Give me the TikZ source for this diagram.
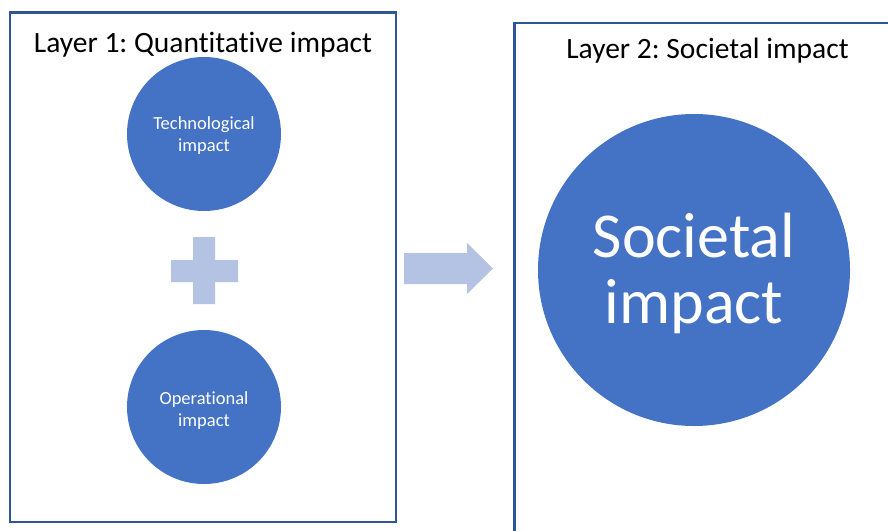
\documentclass[tikz,border=0pt]{standalone}
\usepackage{fontspec}
\setmainfont[Ligatures=NoCommon]{Carlito}
\frenchspacing
\definecolor{boxblue}{HTML}{2F5597}
\definecolor{circblue}{HTML}{4472C4}
\definecolor{lightblue}{HTML}{B4C3E3}
\tikzset{
  layerbox/.style={draw=boxblue, line width=2.2pt},
  bubble/.style={circle, fill=circblue, inner sep=0pt},
  bubbletext/.style={text=white, align=center, inner sep=0pt},
  title/.style={anchor=base, text=black, inner sep=0pt},
  pale/.style={fill=lightblue, draw=none}
}
\begin{document}
\begin{tikzpicture}[x=1pt, y=-1pt]
\useasboundingbox (0,0) rectangle (888,530);
% boxes
\draw[layerbox] (10,12.5) rectangle (396,522);
\draw[layerbox] (890,23) -- (514.5,23) -- (514.5,532);
% titles
\node[title, font=\fontsize{29.5}{34}\selectfont] (t1) at (203,52) {Layer 1: Quantitative impact};
\node[title, font=\fontsize{29.5}{34}\selectfont] (t2) at (707.5,58.5) {Layer 2: Societal impact};
% circles
\node[bubble, minimum size=154pt] (tech) at (204,134) {};
\node[bubble, minimum size=154pt] (oper) at (204,407) {};
\node[bubble, minimum size=312pt] (soc) at (694,270) {};
\node[bubbletext, font=\fontsize{18.5}{22}\selectfont] (techlbl) at ([yshift=-2pt]tech.center) {Technological\\impact};
\node[bubbletext, font=\fontsize{18.5}{22}\selectfont] (operlbl) at ([yshift=-4pt]oper.center) {Operational\\impact};
\node[bubbletext, font=\fontsize{64}{66}\selectfont] (soclbl) at ([yshift=-3pt]soc.center) {Societal\\impact};
% plus
\fill[pale] (193,237) -- (215,237) -- (215,260) -- (238,260) -- (238,282) -- (215,282) -- (215,304) -- (193,304) -- (193,282) -- (171,282) -- (171,260) -- (193,260) -- cycle;
% arrow
\fill[pale] (404,253) -- (467,253) -- (467,243) -- (493,268.5) -- (467,294) -- (467,284) -- (404,284) -- cycle;
\end{tikzpicture}
\end{document}
